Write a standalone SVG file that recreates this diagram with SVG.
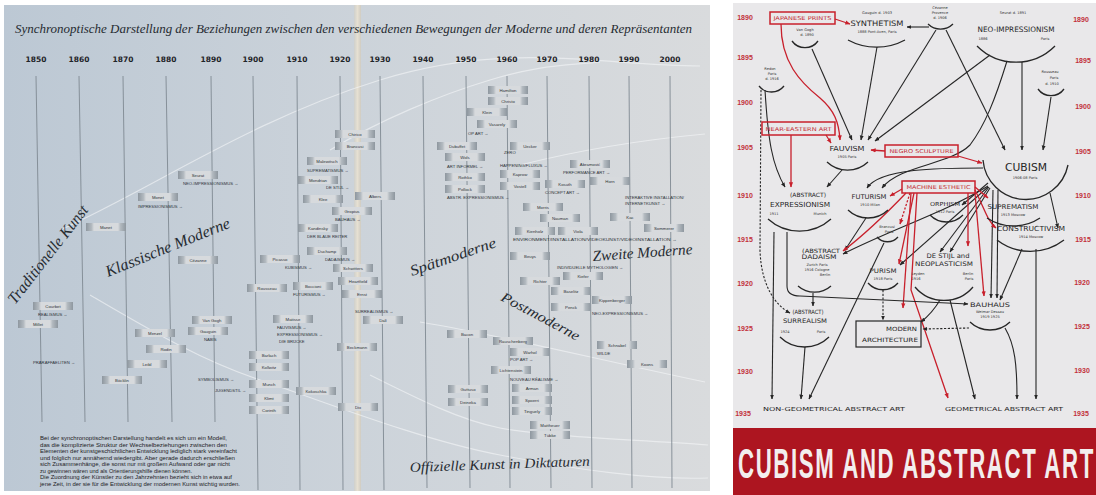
<svg xmlns="http://www.w3.org/2000/svg" width="1096" height="495" viewBox="0 0 1096 495">
<style>
.vl{stroke:#7f8992;stroke-width:0.9}
.yr{font-family:"DejaVu Sans",sans-serif;font-weight:bold;font-size:7.5px;fill:#1f2429;text-anchor:middle}
.hw{font-family:"Liberation Serif",serif;font-style:italic;fill:#262b31}
.lb{fill:url(#gbox)}
.lt{font-family:"Liberation Sans",sans-serif;font-size:4.3px;fill:#2d3237;text-anchor:middle}
.mv{font-family:"Liberation Sans",sans-serif;font-size:4.2px;fill:#2d3237}
.wc{fill:none;stroke:#f5f7f9;stroke-width:1.2;opacity:.6}
.par{font-family:"Liberation Sans",sans-serif;font-size:5.2px;fill:#1f2327}
.ry{font-family:"Liberation Sans",sans-serif;font-weight:bold;font-size:7px;fill:#c2303a;text-anchor:middle}
.nt{font-family:"DejaVu Sans",sans-serif;fill:#262626;text-anchor:middle}
.sm{font-family:"DejaVu Sans",sans-serif;font-size:3.6px;fill:#333;text-anchor:middle}
.red{fill:#c42a33}
.arc{fill:none;stroke:#262626;stroke-width:1.3}
.c{fill:none;stroke:#262626;stroke-width:1.1;marker-end:url(#ab)}
.cr{fill:none;stroke:#c8202c;stroke-width:1.3;marker-end:url(#ar)}
.d{stroke-dasharray:2.2 1.6}
.rbox{fill:none;stroke:#c8202c;stroke-width:1.5}
</style>
<defs>
<linearGradient id="gl" x1="0" y1="0" x2="1" y2="0">
<stop offset="0" stop-color="#bcc8d4"/><stop offset="0.5" stop-color="#ccd3da"/><stop offset="1" stop-color="#d9dbdd"/>
</linearGradient>
<linearGradient id="gbox" x1="0" y1="0" x2="1" y2="0">
<stop offset="0" stop-color="#8e979f"/><stop offset="0.14" stop-color="#b3bac0"/><stop offset="0.2" stop-color="#d7dadd"/><stop offset="0.8" stop-color="#d7dadd"/><stop offset="0.86" stop-color="#b3bac0"/><stop offset="1" stop-color="#8e979f"/>
</linearGradient>
<linearGradient id="gfold" x1="0" y1="0" x2="1" y2="0">
<stop offset="0" stop-color="#cfd0cc"/><stop offset="0.5" stop-color="#e6e0d2"/><stop offset="1" stop-color="#d0ccc2"/>
</linearGradient>
<marker id="ab" viewBox="0 0 10 10" refX="9" refY="5" markerWidth="4.5" markerHeight="4.5" orient="auto"><path d="M0,1 L10,5 L0,9 z" fill="#262626"/></marker>
<marker id="ar" viewBox="0 0 10 10" refX="9" refY="5" markerWidth="4" markerHeight="4" orient="auto"><path d="M0,1 L10,5 L0,9 z" fill="#c8202c"/></marker>
</defs>
<rect width="1096" height="495" fill="#ffffff"/>

<!-- LEFT PANEL -->
<g id="left-panel">
<rect x="4" y="5" width="706" height="486" fill="url(#gl)"/>
<rect x="354" y="5" width="7" height="486" fill="url(#gfold)"/>
<g id="white-curves">
<path class="wc" d="M60,230 C150,190 250,120 380,80 S600,66 700,66"/>
<path class="wc" d="M330,150 C380,120 440,95 490,80 S560,66 600,62"/>
<path class="wc" d="M520,165 C580,150 640,140 705,134"/>
<path class="wc" d="M90,295 C150,330 200,360 260,380 S420,440 500,455 S650,480 708,478"/>
<path class="wc" d="M370,375 C420,400 460,420 500,428 S640,440 708,445"/>
<path class="wc" d="M420,322 C500,335 600,360 705,382"/>
</g>
<text class="hw" x="15" y="33" font-size="12" textLength="677" lengthAdjust="spacingAndGlyphs">Synchronoptische Darstellung der Beziehungen zwischen den verschiedenen Bewegungen der Moderne und deren Repräsentanten</text>
<g id="years">
<text class="yr" x="36" y="62">1850</text><text class="yr" x="79" y="62">1860</text><text class="yr" x="123" y="62">1870</text><text class="yr" x="166" y="62">1880</text>
<text class="yr" x="211" y="62">1890</text><text class="yr" x="253" y="62">1900</text><text class="yr" x="297" y="62">1910</text><text class="yr" x="340" y="62">1920</text>
<text class="yr" x="380" y="62">1930</text><text class="yr" x="423" y="62">1940</text><text class="yr" x="466" y="62">1950</text><text class="yr" x="507" y="62">1960</text>
<text class="yr" x="547" y="62">1970</text><text class="yr" x="589" y="62">1980</text><text class="yr" x="629" y="62">1990</text><text class="yr" x="670" y="62">2000</text>
</g>
<g id="timelines">
<line class="vl" x1="36" y1="76" x2="42" y2="422"/><line class="vl" x1="79" y1="76" x2="85" y2="422"/><line class="vl" x1="123" y1="76" x2="128" y2="422"/><line class="vl" x1="166" y1="76" x2="172" y2="422"/>
<line class="vl" x1="211" y1="76" x2="215" y2="422"/><line class="vl" x1="253" y1="76" x2="258" y2="490"/><line class="vl" x1="297" y1="76" x2="300" y2="490"/><line class="vl" x1="340" y1="76" x2="343" y2="490"/>
<line class="vl" x1="380" y1="76" x2="384" y2="490"/><line class="vl" x1="423" y1="76" x2="427" y2="488"/><line class="vl" x1="466" y1="76" x2="470" y2="488"/><line class="vl" x1="507" y1="76" x2="510" y2="488"/>
<line class="vl" x1="547" y1="76" x2="551" y2="488"/><line class="vl" x1="589" y1="76" x2="592" y2="488"/><line class="vl" x1="629" y1="76" x2="632" y2="488"/><line class="vl" x1="670" y1="76" x2="672" y2="488"/>
</g>
<g id="artists">
<g id="a-courbet" transform="translate(33,302)"><rect class="lb" width="40" height="8"/><text class="lt" x="20" y="5.6">Courbet</text></g>
<g id="a-millet" transform="translate(18,320)"><rect class="lb" width="40" height="8"/><text class="lt" x="20" y="5.6">Millet</text></g>
<g id="a-manet" transform="translate(86,223)"><rect class="lb" width="40" height="8"/><text class="lt" x="20" y="5.6">Manet</text></g>
<g id="a-monet" transform="translate(138,193)"><rect class="lb" width="40" height="8"/><text class="lt" x="20" y="5.6">Monet</text></g>
<g id="a-seurat" transform="translate(178,171)"><rect class="lb" width="40" height="8"/><text class="lt" x="20" y="5.6">Seurat</text></g>
<g id="a-menzel" transform="translate(135,329)"><rect class="lb" width="40" height="8"/><text class="lt" x="20" y="5.6">Menzel</text></g>
<g id="a-rodin" transform="translate(146,345)"><rect class="lb" width="40" height="8"/><text class="lt" x="20" y="5.6">Rodin</text></g>
<g id="a-leibl" transform="translate(127,360)"><rect class="lb" width="40" height="8"/><text class="lt" x="20" y="5.6">Leibl</text></g>
<g id="a-boecklin" transform="translate(102,376)"><rect class="lb" width="40" height="8"/><text class="lt" x="20" y="5.6">Böcklin</text></g>
<g id="a-cezanne" transform="translate(178,256)"><rect class="lb" width="40" height="8"/><text class="lt" x="20" y="5.6">Cézanne</text></g>
<g id="a-vangogh" transform="translate(192,316)"><rect class="lb" width="40" height="8"/><text class="lt" x="20" y="5.6">Van Gogh</text></g>
<g id="a-gauguin" transform="translate(188,327)"><rect class="lb" width="40" height="8"/><text class="lt" x="20" y="5.6">Gauguin</text></g>
<g id="a-rousseau" transform="translate(247,284)"><rect class="lb" width="40" height="8"/><text class="lt" x="20" y="5.6">Rousseau</text></g>
<g id="a-picasso" transform="translate(260,255)"><rect class="lb" width="40" height="8"/><text class="lt" x="20" y="5.6">Picasso</text></g>
<g id="a-barlach" transform="translate(249,351)"><rect class="lb" width="40" height="8"/><text class="lt" x="20" y="5.6">Barlach</text></g>
<g id="a-kollwitz" transform="translate(249,363)"><rect class="lb" width="40" height="8"/><text class="lt" x="20" y="5.6">Kollwitz</text></g>
<g id="a-munch" transform="translate(249,380)"><rect class="lb" width="40" height="8"/><text class="lt" x="20" y="5.6">Munch</text></g>
<g id="a-klimt" transform="translate(249,394)"><rect class="lb" width="40" height="8"/><text class="lt" x="20" y="5.6">Klimt</text></g>
<g id="a-corinth" transform="translate(249,406)"><rect class="lb" width="40" height="8"/><text class="lt" x="20" y="5.6">Corinth</text></g>
<g id="a-boccioni" transform="translate(293,282)"><rect class="lb" width="40" height="8"/><text class="lt" x="20" y="5.6">Boccioni</text></g>
<g id="a-matisse" transform="translate(273,315)"><rect class="lb" width="40" height="8"/><text class="lt" x="20" y="5.6">Matisse</text></g>
<g id="a-kandinsky" transform="translate(298,224)"><rect class="lb" width="40" height="8"/><text class="lt" x="20" y="5.6">Kandinsky</text></g>
<g id="a-malewitsch" transform="translate(307,157)"><rect class="lb" width="40" height="8"/><text class="lt" x="20" y="5.6">Malewitsch</text></g>
<g id="a-mondrian" transform="translate(298,176)"><rect class="lb" width="40" height="8"/><text class="lt" x="20" y="5.6">Mondrian</text></g>
<g id="a-klee" transform="translate(303,195)"><rect class="lb" width="40" height="8"/><text class="lt" x="20" y="5.6">Klee</text></g>
<g id="a-kokoschka" transform="translate(296,387)"><rect class="lb" width="40" height="8"/><text class="lt" x="20" y="5.6">Kokoschka</text></g>
<g id="a-duchamp" transform="translate(307,247)"><rect class="lb" width="40" height="8"/><text class="lt" x="20" y="5.6">Duchamp</text></g>
<g id="a-chirico" transform="translate(335,130)"><rect class="lb" width="40" height="8"/><text class="lt" x="20" y="5.6">Chirico</text></g>
<g id="a-brancusi" transform="translate(335,142)"><rect class="lb" width="40" height="8"/><text class="lt" x="20" y="5.6">Brancusi</text></g>
<g id="a-albers" transform="translate(355,192)"><rect class="lb" width="40" height="8"/><text class="lt" x="20" y="5.6">Albers</text></g>
<g id="a-gropius" transform="translate(332,207)"><rect class="lb" width="40" height="8"/><text class="lt" x="20" y="5.6">Gropius</text></g>
<g id="a-schwitters" transform="translate(333,264)"><rect class="lb" width="40" height="8"/><text class="lt" x="20" y="5.6">Schwitters</text></g>
<g id="a-heartfield" transform="translate(338,277)"><rect class="lb" width="40" height="8"/><text class="lt" x="20" y="5.6">Heartfield</text></g>
<g id="a-ernst" transform="translate(342,290)"><rect class="lb" width="40" height="8"/><text class="lt" x="20" y="5.6">Ernst</text></g>
<g id="a-dali" transform="translate(363,316)"><rect class="lb" width="40" height="8"/><text class="lt" x="20" y="5.6">Dalí</text></g>
<g id="a-beckmann" transform="translate(337,343)"><rect class="lb" width="40" height="8"/><text class="lt" x="20" y="5.6">Beckmann</text></g>
<g id="a-dix" transform="translate(338,403)"><rect class="lb" width="40" height="8"/><text class="lt" x="20" y="5.6">Dix</text></g>
<g id="a-bacon" transform="translate(447,330)"><rect class="lb" width="40" height="8"/><text class="lt" x="20" y="5.6">Bacon</text></g>
<g id="a-guttuso" transform="translate(448,385)"><rect class="lb" width="40" height="8"/><text class="lt" x="20" y="5.6">Guttuso</text></g>
<g id="a-deineka" transform="translate(448,398)"><rect class="lb" width="40" height="8"/><text class="lt" x="20" y="5.6">Deineka</text></g>
<g id="a-hamilton" transform="translate(488,86)"><rect class="lb" width="40" height="8"/><text class="lt" x="20" y="5.6">Hamilton</text></g>
<g id="a-christo" transform="translate(488,97)"><rect class="lb" width="40" height="8"/><text class="lt" x="20" y="5.6">Christo</text></g>
<g id="a-klein" transform="translate(467,108)"><rect class="lb" width="40" height="8"/><text class="lt" x="20" y="5.6">Klein</text></g>
<g id="a-vasarely" transform="translate(477,120)"><rect class="lb" width="40" height="8"/><text class="lt" x="20" y="5.6">Vasarely</text></g>
<g id="a-dubuffet" transform="translate(437,142)"><rect class="lb" width="40" height="8"/><text class="lt" x="20" y="5.6">Dubuffet</text></g>
<g id="a-uecker" transform="translate(510,142)"><rect class="lb" width="40" height="8"/><text class="lt" x="20" y="5.6">Uecker</text></g>
<g id="a-wols" transform="translate(445,153)"><rect class="lb" width="40" height="8"/><text class="lt" x="20" y="5.6">Wols</text></g>
<g id="a-abramovic" transform="translate(570,160)"><rect class="lb" width="40" height="8"/><text class="lt" x="20" y="5.6">Abramović</text></g>
<g id="a-kaprow" transform="translate(500,170)"><rect class="lb" width="40" height="8"/><text class="lt" x="20" y="5.6">Kaprow</text></g>
<g id="a-rothko" transform="translate(445,173)"><rect class="lb" width="40" height="8"/><text class="lt" x="20" y="5.6">Rothko</text></g>
<g id="a-horn" transform="translate(590,177)"><rect class="lb" width="40" height="8"/><text class="lt" x="20" y="5.6">Horn</text></g>
<g id="a-kosuth" transform="translate(545,180)"><rect class="lb" width="40" height="8"/><text class="lt" x="20" y="5.6">Kosuth</text></g>
<g id="a-vostell" transform="translate(500,182)"><rect class="lb" width="40" height="8"/><text class="lt" x="20" y="5.6">Vostell</text></g>
<g id="a-pollock" transform="translate(445,185)"><rect class="lb" width="40" height="8"/><text class="lt" x="20" y="5.6">Pollock</text></g>
<g id="a-morris" transform="translate(523,203)"><rect class="lb" width="40" height="8"/><text class="lt" x="20" y="5.6">Morris</text></g>
<g id="a-nauman" transform="translate(540,214)"><rect class="lb" width="40" height="8"/><text class="lt" x="20" y="5.6">Nauman</text></g>
<g id="a-kac" transform="translate(610,213)"><rect class="lb" width="40" height="8"/><text class="lt" x="20" y="5.6">Kac</text></g>
<g id="a-kienholz" transform="translate(515,227)"><rect class="lb" width="40" height="8"/><text class="lt" x="20" y="5.6">Kienholz</text></g>
<g id="a-viola" transform="translate(558,227)"><rect class="lb" width="40" height="8"/><text class="lt" x="20" y="5.6">Viola</text></g>
<g id="a-sommerer" transform="translate(644,224)"><rect class="lb" width="40" height="8"/><text class="lt" x="20" y="5.6">Sommerer</text></g>
<g id="a-beuys" transform="translate(510,252)"><rect class="lb" width="40" height="8"/><text class="lt" x="20" y="5.6">Beuys</text></g>
<g id="a-kiefer" transform="translate(563,272)"><rect class="lb" width="40" height="8"/><text class="lt" x="20" y="5.6">Kiefer</text></g>
<g id="a-richter" transform="translate(520,277)"><rect class="lb" width="40" height="8"/><text class="lt" x="20" y="5.6">Richter</text></g>
<g id="a-baselitz" transform="translate(551,287)"><rect class="lb" width="40" height="8"/><text class="lt" x="20" y="5.6">Baselitz</text></g>
<g id="a-kippenberger" transform="translate(592,296)"><rect class="lb" width="40" height="8"/><text class="lt" x="20" y="5.6">Kippenberger</text></g>
<g id="a-penck" transform="translate(551,303)"><rect class="lb" width="40" height="8"/><text class="lt" x="20" y="5.6">Penck</text></g>
<g id="a-rauschenberg" transform="translate(493,337)"><rect class="lb" width="40" height="8"/><text class="lt" x="20" y="5.6">Rauschenberg</text></g>
<g id="a-warhol" transform="translate(510,348)"><rect class="lb" width="40" height="8"/><text class="lt" x="20" y="5.6">Warhol</text></g>
<g id="a-lichtenstein" transform="translate(491,366)"><rect class="lb" width="40" height="8"/><text class="lt" x="20" y="5.6">Lichtenstein</text></g>
<g id="a-arman" transform="translate(512,384)"><rect class="lb" width="40" height="8"/><text class="lt" x="20" y="5.6">Arman</text></g>
<g id="a-spoerri" transform="translate(512,396)"><rect class="lb" width="40" height="8"/><text class="lt" x="20" y="5.6">Spoerri</text></g>
<g id="a-tinguely" transform="translate(512,407)"><rect class="lb" width="40" height="8"/><text class="lt" x="20" y="5.6">Tinguely</text></g>
<g id="a-schnabel" transform="translate(597,341)"><rect class="lb" width="40" height="8"/><text class="lt" x="20" y="5.6">Schnabel</text></g>
<g id="a-koons" transform="translate(627,360)"><rect class="lb" width="40" height="8"/><text class="lt" x="20" y="5.6">Koons</text></g>
<g id="a-mattheuer" transform="translate(530,421)"><rect class="lb" width="40" height="8"/><text class="lt" x="20" y="5.6">Mattheuer</text></g>
<g id="a-tuebke" transform="translate(530,431)"><rect class="lb" width="40" height="8"/><text class="lt" x="20" y="5.6">Tübke</text></g>
</g>
<g id="movements">
<text class="mv" x="38" y="316">REALISMUS →</text>
<text class="mv" x="33" y="364">PRÄRAFFAELITEN →</text>
<text class="mv" x="138" y="208">IMPRESSIONISMUS →</text>
<text class="mv" x="183" y="185">NEO-IMPRESSIONISMUS →</text>
<text class="mv" x="204" y="341">NABIS</text>
<text class="mv" x="198" y="381">SYMBOLISMUS →</text>
<text class="mv" x="215" y="392">JUGENDSTIL →</text>
<text class="mv" x="285" y="269">KUBISMUS →</text>
<text class="mv" x="293" y="296">FUTURISMUS →</text>
<text class="mv" x="277" y="329">FAUVISMUS →</text>
<text class="mv" x="277" y="336">EXPRESSIONISMUS →</text>
<text class="mv" x="279" y="343">DIE BRÜCKE</text>
<text class="mv" x="307" y="238">DER BLAUE REITER</text>
<text class="mv" x="307" y="172">SUPREMATISMUS →</text>
<text class="mv" x="326" y="189">DE STIJL →</text>
<text class="mv" x="335" y="221">BAUHAUS →</text>
<text class="mv" x="325" y="261">DADAISMUS →</text>
<text class="mv" x="355" y="313">SURREALISMUS →</text>
<text class="mv" x="468" y="135">OP ART →</text>
<text class="mv" x="504" y="154">ZERO</text>
<text class="mv" x="447" y="168">ART INFORMEL →</text>
<text class="mv" x="500" y="167">HAPPENING/FLUXUS →</text>
<text class="mv" x="563" y="174">PERFORMANCE ART →</text>
<text class="mv" x="545" y="194">CONCEPT ART →</text>
<text class="mv" x="447" y="199">ABSTR. EXPRESSIONISMUS →</text>
<text class="mv" x="625" y="199">INTERAKTIVE INSTALLATION/</text>
<text class="mv" x="625" y="205">INTERNETKUNST →</text>
<text class="mv" x="513" y="241" textLength="164" lengthAdjust="spacingAndGlyphs">ENVIRONMENT/INSTALLATION/VIDEOKUNST/VIDEOINSTALLATION →</text>
<text class="mv" x="557" y="269">INDIVIDUELLE MYTHOLOGIEN →</text>
<text class="mv" x="592" y="315">NEO-EXPRESSIONISMUS →</text>
<text class="mv" x="597" y="355">WILDE</text>
<text class="mv" x="510" y="361">POP ART →</text>
<text class="mv" x="510" y="381">NOUVEAU RÉALISME →</text>
</g>
<g id="eras">
<text class="hw" font-size="16" transform="translate(15,305) rotate(-52)" textLength="120" lengthAdjust="spacingAndGlyphs">Traditionelle Kunst</text>
<text class="hw" font-size="16" transform="translate(108,277) rotate(-22)" textLength="133" lengthAdjust="spacingAndGlyphs">Klassische Moderne</text>
<text class="hw" font-size="15" transform="translate(412,276) rotate(-19)" textLength="90" lengthAdjust="spacingAndGlyphs">Spätmoderne</text>
<text class="hw" font-size="15" transform="translate(593,261) rotate(-4)" textLength="100" lengthAdjust="spacingAndGlyphs">Zweite Moderne</text>
<text class="hw" font-size="14" transform="translate(500,300) rotate(28)" textLength="87" lengthAdjust="spacingAndGlyphs">Postmoderne</text>
<text class="hw" font-size="14" transform="translate(410,472) rotate(-2)" textLength="180" lengthAdjust="spacingAndGlyphs">Offizielle Kunst in Diktaturen</text>
</g>
<g id="note">
<text class="par" x="40" y="440" textLength="187" lengthAdjust="spacingAndGlyphs">Bei der synchronoptischen Darstellung handelt es sich um ein Modell,</text>
<text class="par" x="40" y="446.5" textLength="187" lengthAdjust="spacingAndGlyphs">das die komplizierte Struktur der Wechselbeziehungen zwischen den</text>
<text class="par" x="40" y="453" textLength="197" lengthAdjust="spacingAndGlyphs">Elementen der kunstgeschichtlichen Entwicklung lediglich stark vereinfacht</text>
<text class="par" x="40" y="459.5" textLength="195" lengthAdjust="spacingAndGlyphs">und folglich nur annähernd wiedergibt. Aber gerade dadurch erschließen</text>
<text class="par" x="40" y="466" textLength="190" lengthAdjust="spacingAndGlyphs">sich Zusammenhänge, die sonst nur mit großem Aufwand oder gar nicht</text>
<text class="par" x="40" y="472.5" textLength="152" lengthAdjust="spacingAndGlyphs">zu gewinnen wären und als Orientierungshilfe dienen können.</text>
<text class="par" x="40" y="479" textLength="192" lengthAdjust="spacingAndGlyphs">Die Zuordnung der Künstler zu den Jahrzehnten bezieht sich in etwa auf</text>
<text class="par" x="40" y="485.5" textLength="200" lengthAdjust="spacingAndGlyphs">jene Zeit, in der sie für die Entwicklung der modernen Kunst wichtig wurden.</text>
</g>
</g>

<!-- RIGHT PANEL -->
<g id="right-panel">
<rect x="733" y="3" width="363" height="425" fill="#e9e8ea"/>
<rect x="733" y="428" width="363" height="67" fill="#ad1520"/>
<g id="r-years">
<text class="ry" x="745" y="20">1890</text><text class="ry" x="745" y="60">1895</text><text class="ry" x="745" y="105">1900</text><text class="ry" x="745" y="150">1905</text><text class="ry" x="745" y="198">1910</text>
<text class="ry" x="745" y="242">1915</text><text class="ry" x="745" y="286">1920</text><text class="ry" x="745" y="331">1925</text><text class="ry" x="745" y="374">1930</text><text class="ry" x="743" y="416">1935</text>
<text class="ry" x="1081" y="22">1890</text><text class="ry" x="1083" y="63">1895</text><text class="ry" x="1083" y="109">1900</text><text class="ry" x="1083" y="154">1905</text><text class="ry" x="1083" y="198">1910</text>
<text class="ry" x="1083" y="242">1915</text><text class="ry" x="1082" y="285">1920</text><text class="ry" x="1082" y="329">1925</text><text class="ry" x="1082" y="373">1930</text><text class="ry" x="1081" y="416">1935</text>
</g>

<g id="connectors">
<path class="c" d="M929,27 L907,27"/>
<path class="cr" d="M835,19 L850,24"/>
<path class="cr" d="M781,24 C781,62 800,82 820,98 C834,110 839,122 840,140"/>
<path class="c" d="M812,49 L852,140"/>
<path class="c" d="M877,47 L861,140"/>
<path class="c" d="M936,30 L868,140"/>
<path class="c" d="M990,55 L875,141"/>
<path class="c" d="M946,30 L1005,150"/>
<path class="c" d="M1022,62 L1022,150"/>
<path class="c" d="M1007,61 C995,100 985,125 970,145 C950,165 900,165 882,188"/>
<path class="c" d="M983,168 C940,168 880,168 867,188"/>
<path class="c" d="M1051,97 L1043,150"/>
<path class="cr" d="M826,135 L831,143"/>
<path class="cr" d="M791,135 L791,187"/>
<path class="cr" d="M885,151 L871,150"/>
<path class="cr" d="M958,156 L982,163"/>
<path class="c" d="M842,170 L827,187"/>
<path class="c" d="M765,90 C768,140 772,165 785,187"/>
<path class="c d" d="M761,90 L760,250 C761,285 775,305 790,313"/>
<path class="c" d="M988,183 L962,205"/>
<path class="c" d="M1050,193 L1058,228"/>
<path class="c" d="M988,186 C950,210 890,230 843,254"/>
<path class="c" d="M990,188 L950,252"/>
<path class="c" d="M989,187 L940,252"/>
<path class="c" d="M988,187 L900,265"/>
<path class="c" d="M993,190 L991,298"/>
<path class="c" d="M998,190 L997,298"/>
<path class="c" d="M866,218 L845,250"/>
<path class="cr" d="M902,189 L890,196"/>
<path class="cr d" d="M910,193 L900,224"/>
<path class="cr" d="M906,193 C885,215 860,238 843,251"/>
<path class="cr" d="M914,193 L899,264"/>
<path class="cr" d="M911,193 L903,308"/>
<path class="cr" d="M917,193 L911,290 L948,398"/>
<path class="cr" d="M968,193 L968,246"/>
<path class="cr" d="M975,193 L984,296"/>
<path class="cr" d="M975,187 L988,198"/>
<path class="cr" d="M975,190 C985,210 988,222 996,228"/>
<path class="c" d="M787,232 L787,286 C787,293 792,296 800,296 L968,304"/>
<path class="c" d="M774,232 L772,399"/>
<path class="c" d="M813,293 L813,306"/>
<path class="c" d="M805,347 L801,399"/>
<path class="c" d="M884,243 L809,399"/>
<path class="c d" d="M883,290 L883,320"/>
<path class="c" d="M940,300 C933,312 926,318 921,322"/>
<path class="c d" d="M969,328 L923,329"/>
<path class="c" d="M950,300 L975,399"/>
<path class="c" d="M1022,249 L1000,300"/>
<path class="c" d="M1036,249 L1036,399"/>
<path class="c" d="M1005,328 C1015,345 1017,365 1017,399"/>
</g>

<g id="n-japanese"><rect class="rbox" x="770" y="12" width="65" height="12"/><text class="nt red" x="802.5" y="20.3" font-size="5.3" textLength="58" lengthAdjust="spacingAndGlyphs">JAPANESE PRINTS</text></g>
<g id="n-vangogh"><text class="sm" x="805" y="31">Van Gogh</text><text class="sm" x="807" y="36">d. 1890</text><path class="arc" d="M792,41 A16,16 0 0 0 818,41"/></g>
<g id="n-synthetism"><text class="sm" x="877" y="14">Gauguin d. 1903</text><text class="nt" x="877" y="26" font-size="7.5" textLength="53" lengthAdjust="spacingAndGlyphs">SYNTHETISM</text><text class="sm" x="877" y="33">1888 Pont-Aven, Paris</text><path class="arc" d="M848,40 A60,60 0 0 0 905,40"/></g>
<g id="n-cezanne"><text class="sm" x="940" y="9">Cézanne</text><text class="sm" x="940" y="14">Provence</text><text class="sm" x="940" y="19">d. 1906</text><path class="arc" d="M928,24 A18,18 0 0 0 953,24"/></g>
<g id="n-neoimp"><text class="sm" x="1013" y="14">Seurat d. 1891</text><text class="nt" x="1016" y="32" font-size="7.5" textLength="77" lengthAdjust="spacingAndGlyphs">NEO-IMPRESSIONISM</text><text class="sm" x="983" y="40">1886</text><text class="sm" x="1045" y="40">Paris</text><path class="arc" d="M977,46 A55,55 0 0 0 1055,46"/></g>
<g id="n-redon"><text class="sm" x="770" y="70">Redon</text><text class="sm" x="772" y="75">Paris</text><text class="sm" x="772" y="80">d. 1916</text><path class="arc" d="M759,86 A16,16 0 0 0 784,86"/></g>
<g id="n-rousseau"><text class="sm" x="1050" y="73">Rousseau</text><text class="sm" x="1054" y="79">Paris</text><text class="sm" x="1052" y="85">d. 1910</text><path class="arc" d="M1038,89 A16,16 0 0 0 1064,89"/></g>
<g id="n-neareast"><rect class="rbox" x="762" y="122" width="73" height="13"/><text class="nt red" x="798.5" y="130.8" font-size="5.3" textLength="66" lengthAdjust="spacingAndGlyphs">NEAR-EASTERN ART</text></g>
<g id="n-fauvism"><text class="nt" x="847" y="151" font-size="7" textLength="35" lengthAdjust="spacingAndGlyphs">FAUVISM</text><text class="sm" x="847" y="158">1905   Paris</text><path class="arc" d="M827,162 A30,30 0 0 0 868,162"/></g>
<g id="n-negro"><rect class="rbox" x="885" y="145" width="73" height="12"/><text class="nt red" x="921.5" y="153.2" font-size="5.3" textLength="64" lengthAdjust="spacingAndGlyphs">NEGRO SCULPTURE</text></g>
<g id="n-cubism"><text class="nt" x="1026" y="171" font-size="11" textLength="42" lengthAdjust="spacingAndGlyphs">CUBISM</text><text class="sm" x="1025" y="179">1906-08     Paris</text><path class="arc" d="M983,160 A43,43 0 0 0 1068,165"/></g>
<g id="n-machine"><rect class="rbox" x="902" y="181" width="73" height="12"/><text class="nt red" x="938.5" y="189.2" font-size="5.3" textLength="64" lengthAdjust="spacingAndGlyphs">MACHINE ESTHETIC</text></g>
<g id="n-expressionism"><text class="nt" x="808" y="197" font-size="5.8" textLength="36" lengthAdjust="spacingAndGlyphs">(ABSTRACT)</text><text class="nt" x="800" y="207" font-size="7" textLength="60" lengthAdjust="spacingAndGlyphs">EXPRESSIONISM</text><text class="sm" x="774" y="215">1911</text><text class="sm" x="820" y="215">Munich</text><path class="arc" d="M768,219 A47,47 0 0 0 831,219"/></g>
<g id="n-futurism"><text class="nt" x="869" y="199" font-size="6.5" textLength="35" lengthAdjust="spacingAndGlyphs">FUTURISM</text><text class="sm" x="870" y="206">1910   Milan</text><path class="arc" d="M848,210 A29,29 0 0 0 888,210"/></g>
<g id="n-orphism"><text class="nt" x="945" y="206" font-size="5.5" textLength="30" lengthAdjust="spacingAndGlyphs">ORPHISM</text><text class="sm" x="945" y="212.5">1912   Paris</text><path class="arc" d="M930,215 A23,23 0 0 0 963,215"/></g>
<g id="n-suprematism"><text class="nt" x="1013" y="209" font-size="6.5" textLength="51" lengthAdjust="spacingAndGlyphs">SUPREMATISM</text><text class="sm" x="1013" y="215.5">1913      Moscow</text><path class="arc" d="M987,218 A48,48 0 0 0 1040,218"/></g>
<g id="n-constructivism"><text class="nt" x="1031" y="231" font-size="7" textLength="68" lengthAdjust="spacingAndGlyphs">CONSTRUCTIVISM</text><text class="sm" x="1031" y="238">1914        Moscow</text><path class="arc" d="M997,240 A55,55 0 0 0 1064,240"/></g>
<g id="n-brancusi"><text class="sm" x="887" y="228">Brancusi</text><text class="sm" x="889" y="233">Paris</text><path class="arc" d="M877,237 A14,14 0 0 0 898,237"/></g>
<g id="n-dadaism"><text class="nt" x="821" y="253" font-size="5.8" textLength="38" lengthAdjust="spacingAndGlyphs">(ABSTRACT</text><text class="nt" x="819" y="259" font-size="6.3" textLength="35" lengthAdjust="spacingAndGlyphs">DADAISM</text><text class="sm" x="817" y="266">Zurich  Paris</text><text class="sm" x="817" y="271">1916 Cologne</text><text class="sm" x="825" y="276">Berlin</text><path class="arc" d="M798,286 A25,25 0 0 0 831,286"/></g>
<g id="n-purism"><text class="nt" x="883" y="273" font-size="6.3" textLength="27" lengthAdjust="spacingAndGlyphs">PURISM</text><text class="sm" x="883" y="280">1918   Paris</text><path class="arc" d="M868,283 A20,20 0 0 0 898,283"/></g>
<g id="n-destijl"><text class="nt" x="948" y="258" font-size="6.3" textLength="43" lengthAdjust="spacingAndGlyphs">DE STIJL and</text><text class="nt" x="944" y="266" font-size="6.3" textLength="58" lengthAdjust="spacingAndGlyphs">NEOPLASTICISM</text><text class="sm" x="918" y="275">Leyden</text><text class="sm" x="916" y="280">1916</text><text class="sm" x="968" y="275">Berlin</text><text class="sm" x="969" y="280">Paris</text><path class="arc" d="M915,287 A38,38 0 0 0 973,287"/></g>
<g id="n-bauhaus"><text class="nt" x="990" y="307" font-size="6.3" textLength="40" lengthAdjust="spacingAndGlyphs">BAUHAUS</text><text class="sm" x="990" y="313">Weimar  Dessau</text><text class="sm" x="990" y="318">1919      1925</text><path class="arc" d="M970,322 A29,29 0 0 0 1010,322"/></g>
<g id="n-surrealism"><text class="nt" x="808" y="314" font-size="5.8" textLength="31" lengthAdjust="spacingAndGlyphs">(ABSTRACT)</text><text class="nt" x="805" y="323" font-size="6.3" textLength="44" lengthAdjust="spacingAndGlyphs">SURREALISM</text><text class="sm" x="785" y="333">1924</text><text class="sm" x="821" y="333">Paris</text><path class="arc" d="M780,337 A35,35 0 0 0 829,337"/></g>
<g id="n-modern"><rect x="856" y="321" width="65" height="26" fill="none" stroke="#262626" stroke-width="1.2"/><text class="nt" x="917" y="331" font-size="5.8" style="text-anchor:end" textLength="31" lengthAdjust="spacingAndGlyphs">MODERN</text><text class="nt" x="890" y="342" font-size="5.8" textLength="56" lengthAdjust="spacingAndGlyphs">ARCHITECTURE</text></g>
<g id="n-nongeo"><text class="nt" x="834" y="411" font-size="5.5" textLength="142" lengthAdjust="spacingAndGlyphs">NON-GEOMETRICAL ABSTRACT ART</text></g>
<g id="n-geo"><text class="nt" x="1004" y="411" font-size="5.5" textLength="118" lengthAdjust="spacingAndGlyphs">GEOMETRICAL ABSTRACT ART</text></g>
<text transform="translate(738,478) scale(0.53,1)" x="0" y="0" font-family="'Liberation Sans',sans-serif" font-weight="bold" font-size="42" letter-spacing="3" fill="#f3eeee">CUBISM AND ABSTRACT ART</text>
</g>
</svg>
